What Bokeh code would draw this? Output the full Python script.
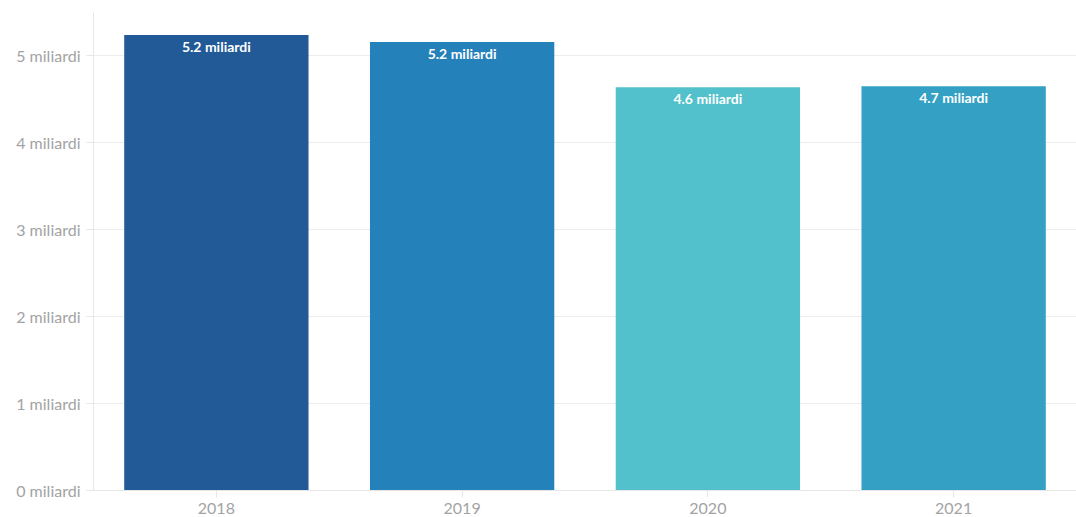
from bokeh.plotting import figure
from bokeh.models import ColumnDataSource, FixedTicker, Range1d
from bokeh.core.properties import value
from bokeh.embed import file_html
from bokeh.resources import INLINE

years = ["2018", "2019", "2020", "2021"]
values = [5.24, 5.16, 4.64, 4.65]
labels = ["5.2 miliardi", "5.2 miliardi", "4.6 miliardi", "4.7 miliardi"]
colors = ["#215a97", "#2481ba", "#52c1cb", "#33a0c4"]
y_ticks = [0, 1, 2, 3, 4, 5]
y_tick_labels = {t: f"{t} miliardi" for t in y_ticks}

src = ColumnDataSource(dict(x=years, top=values, label=labels, color=colors))

p = figure(x_range=years, y_range=Range1d(0, 5.5), width=1076, height=517,
           output_backend="svg", toolbar_location=None,
           min_border_left=93, min_border_right=0, min_border_top=12, min_border_bottom=27)
p.outline_line_color = None
p.background_fill_color = "white"
p.border_fill_color = "white"
p.x_range.range_padding = 0.0

p.vbar(x="x", top="top", width=0.75, source=src, fill_color="color", line_color=None, fill_alpha=1.0)
p.text(x="x", y="top", text="label", source=src, text_color="white",
       text_font=value("Lato"), text_font_style="bold", text_font_size="14px",
       text_align="center", text_baseline="middle", y_offset=11)

p.yaxis.ticker = FixedTicker(ticks=y_ticks)
p.yaxis.major_label_overrides = y_tick_labels
for ax in (p.xaxis, p.yaxis):
    ax.major_label_text_font = "Lato"
    ax.major_label_text_font_size = "16px"
    ax.major_label_text_color = "#a3a3a3"
    ax.axis_line_color = "#e6e6e6"
    ax.major_tick_line_color = "#e6e6e6"
    ax.minor_tick_line_color = None
    ax.major_tick_in = 0
    ax.major_tick_out = 7
p.xaxis.major_label_standoff = 5
p.yaxis.major_label_standoff = 6
p.xgrid.grid_line_color = None
p.ygrid.grid_line_color = "#ededed"
p.ygrid.ticker = FixedTicker(ticks=y_ticks)

open("out.html", "w").write(file_html(p, INLINE))
